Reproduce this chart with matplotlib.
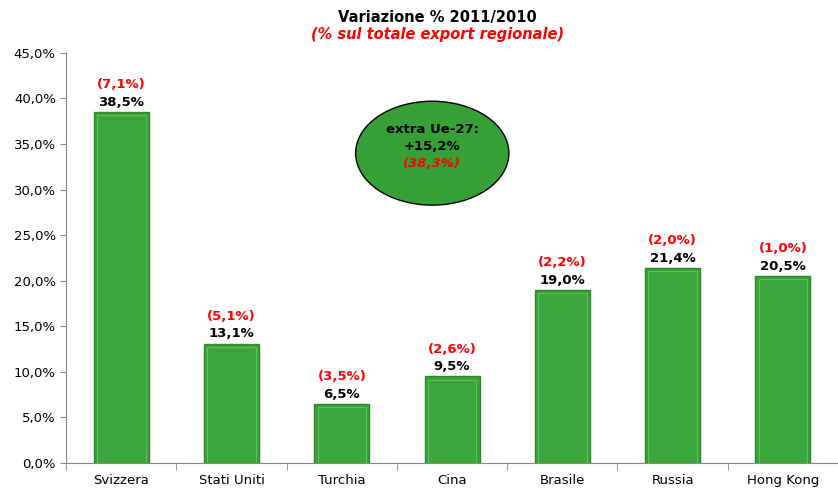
import matplotlib.pyplot as plt
from matplotlib.patches import Ellipse
import numpy as np

paesi = ["Svizzera", "Stati Uniti", "Turchia", "Cina", "Brasile", "Russia", "Hong Kong"]
variazione = [38.5, 13.1, 6.5, 9.5, 19.0, 21.4, 20.5]
quota = [7.1, 5.1, 3.5, 2.6, 2.2, 2.0, 1.0]
extra_ue = 15.2
extra_ue_quota = 38.3


def it(v):
    return f"{v:.1f}".replace(".", ",")


fig = plt.figure(figsize=(8.38, 4.9), dpi=100)
ax = fig.add_axes([0.079, 0.055, 0.921, 0.837])

x = np.arange(len(paesi))
ax.bar(x, variazione, width=0.5, color="#3aa23a", edgecolor="#2c8a2c", linewidth=1.0, zorder=2)
# lighter inner bevel
ax.bar(x, [v - 0.35 for v in variazione], width=0.44, color="#3ca63c",
       edgecolor="#5cc05c", linewidth=0.8, zorder=3)

for xi, v, q in zip(x, variazione, quota):
    ax.text(xi, v + 0.35, it(v) + "%", ha="center", va="bottom", fontsize=9.5,
            fontweight="bold", color="black")
    ax.text(xi, v + 2.3, "(" + it(q) + "%)", ha="center", va="bottom", fontsize=9.5,
            fontweight="bold", color="red")

ell = Ellipse((2.82, 34.0), 1.39, 11.4, facecolor="#36a036", edgecolor="black",
              linewidth=1.0, zorder=4)
ax.add_patch(ell)
ax.text(2.82, 36.6, "extra Ue-27:", ha="center", va="center",
        fontsize=9.5, fontweight="bold", zorder=5)
ax.text(2.82, 34.7, "+" + it(extra_ue) + "%", ha="center", va="center",
        fontsize=9.5, fontweight="bold", zorder=5)
ax.text(2.82, 32.9, "(" + it(extra_ue_quota) + "%)", ha="center", va="center",
        fontsize=9.5, fontstyle="italic", fontweight="bold", color="red", zorder=5)

ax.set_xlim(-0.5, len(paesi) - 0.5)
ax.set_ylim(0, 45)
ax.set_yticks(np.arange(0, 46, 5))
ax.set_yticklabels([it(t) + "%" for t in np.arange(0, 46, 5)], fontsize=9.5)
ax.set_xticks(x)
ax.set_xticklabels(paesi, fontsize=9.5)
ax.tick_params(axis="x", length=0, pad=8)
ax.set_xticks(np.arange(-0.5, len(paesi), 1), minor=True)
ax.tick_params(axis="x", which="minor", length=5, color="#888888")
ax.tick_params(axis="y", length=4, color="#888888")
for s in ["top", "right"]:
    ax.spines[s].set_visible(False)
for s in ["left", "bottom"]:
    ax.spines[s].set_color("#888888")

fig.text(0.522, 0.965, "Variazione % 2011/2010", ha="center", va="center",
         fontsize=10.5, fontweight="bold")
fig.text(0.522, 0.929, "(% sul totale export regionale)", ha="center", va="center",
         fontsize=10.5, fontweight="bold", fontstyle="italic", color="red")

fig.savefig("out.png", dpi=100)
